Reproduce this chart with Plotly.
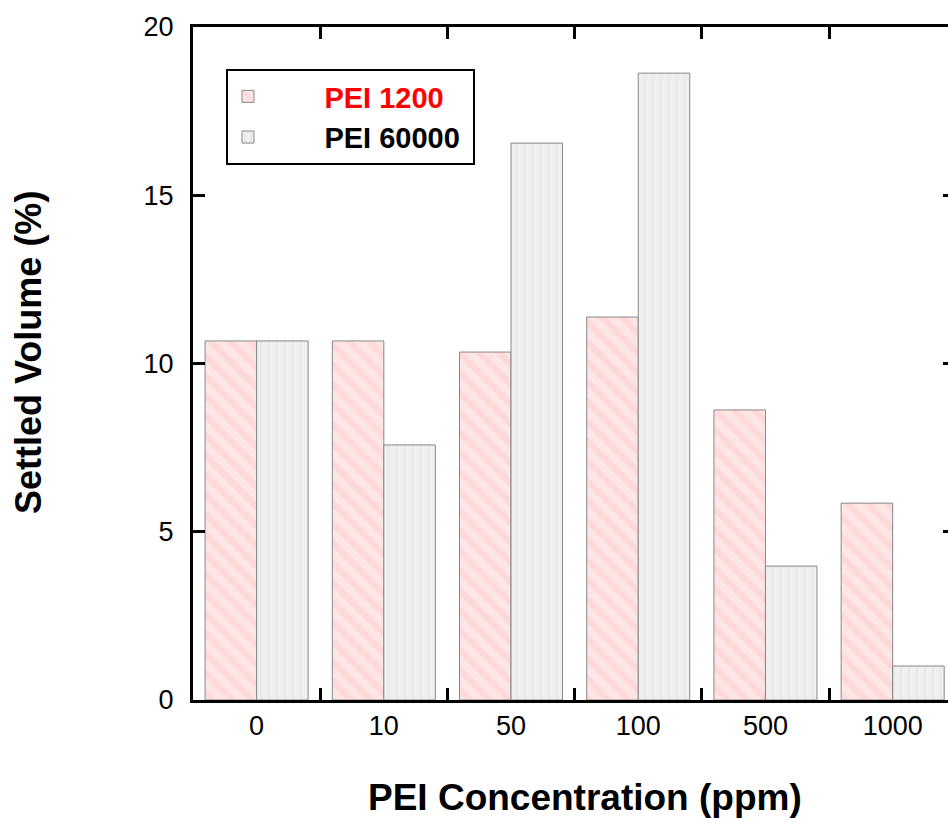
import plotly.graph_objects as go

categories = ["0", "10", "50", "100", "500", "1000"]
pei_1200 = [10.67, 10.67, 10.34, 11.38, 8.62, 5.85]
pei_60000 = [10.67, 7.58, 16.55, 18.63, 3.98, 1.01]
series_names = ["PEI 1200", "PEI 60000"]
y_ticks = [0, 5, 10, 15, 20]
x_title = "PEI Concentration (ppm)"
y_title = "Settled Volume (%)"

FONT = "Liberation Sans, Arial, sans-serif"
PAD = "&nbsp;" * 7

fig = go.Figure()
fig.add_trace(go.Bar(
    x=categories, y=pei_1200,
    name=PAD + "<span style='color:#ff0000'>" + series_names[0] + "</span>",
    marker=dict(
        color="#ffe4e4",
        line=dict(color="#888888", width=1),
        pattern=dict(shape="\\", fgcolor="#ffcccc", bgcolor="#ffe6e6", size=14, solidity=0.45),
    ),
))
fig.add_trace(go.Bar(
    x=categories, y=pei_60000,
    name=PAD + series_names[1] + "&nbsp;",
    marker=dict(
        color="#eeeeee",
        line=dict(color="#888888", width=1),
        pattern=dict(shape="|", fgcolor="#e2e2e2", bgcolor="#efefef", size=8, solidity=0.3),
    ),
))

fig.update_layout(
    width=948, height=818,
    margin=dict(l=193, r=0, t=27, b=118),
    paper_bgcolor="white", plot_bgcolor="white",
    barmode="group", bargap=0.19, bargroupgap=0,
    font=dict(family=FONT, size=27, color="black"),
    showlegend=True,
    legend=dict(
        x=0.0437, y=0.9376, xanchor="left", yanchor="top",
        bordercolor="black", borderwidth=2, bgcolor="white",
        font=dict(family=FONT, size=29, color="black", weight="bold"),
        itemwidth=30, tracegroupgap=0,
    ),
    xaxis=dict(
        type="category", categoryorder="array", categoryarray=categories,
        range=[-0.5, 5.435],
        showline=True, linecolor="black", linewidth=3, mirror="ticks",
        ticks="inside", ticklen=12, tickwidth=2.5, tickcolor="black",
        tickson="boundaries", showgrid=False, zeroline=False,
        tickfont=dict(family=FONT, size=27),
    ),
    yaxis=dict(
        range=[0, 20], tickvals=y_ticks,
        showline=True, linecolor="black", linewidth=3, mirror=False,
        ticks="inside", ticklen=12, tickwidth=2.5, tickcolor="black",
        showgrid=False, zeroline=False,
        tickfont=dict(family=FONT, size=27),
        ticklabelstandoff=11,
    ),
    yaxis2=dict(
        overlaying="y", side="right", range=[0, 20], tickvals=y_ticks,
        showline=False, ticks="inside", ticklen=5, tickwidth=2.5, tickcolor="black",
        showticklabels=False, showgrid=False, zeroline=False,
    ),
    annotations=[
        dict(text=x_title, xref="paper", yref="paper",
             x=(585 - 193) / 755, y=-(797 - 700) / 673,
             xanchor="center", yanchor="middle", showarrow=False,
             font=dict(family=FONT, size=37, weight="bold", color="black")),
        dict(text=y_title, xref="paper", yref="paper",
             x=(28 - 193) / 755, y=(700 - 353) / 673,
             xanchor="center", yanchor="middle", showarrow=False, textangle=-90,
             font=dict(family=FONT, size=36, weight="bold", color="black")),
    ],
)
fig.add_trace(go.Scatter(x=[categories[0]], y=[None], yaxis="y2", showlegend=False,
                         hoverinfo="skip", mode="markers", marker=dict(opacity=0)))

fig.write_html("out.html")
